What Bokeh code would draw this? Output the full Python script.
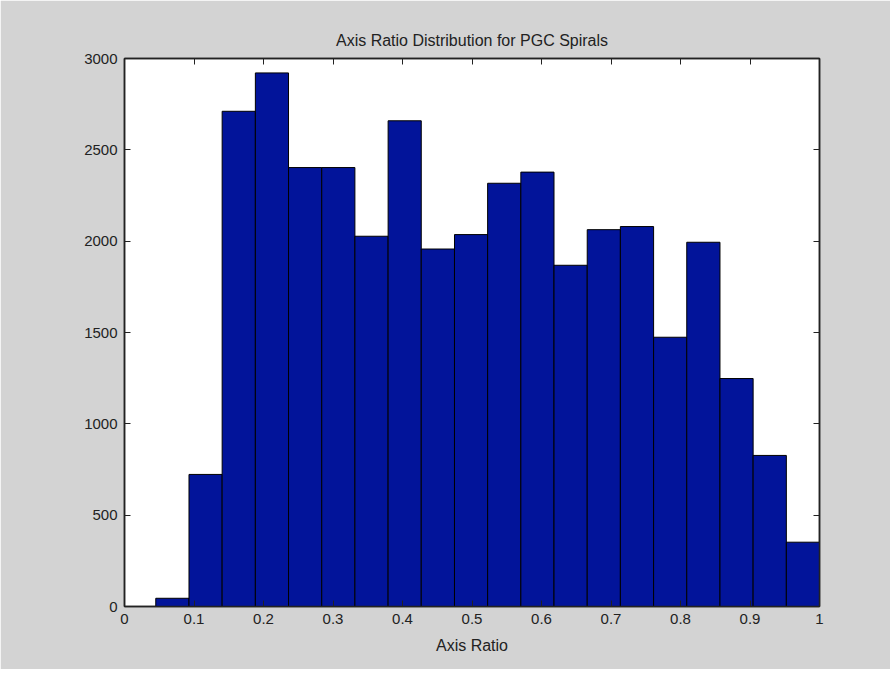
from bokeh.plotting import figure
from bokeh.models import LinearAxis, FixedTicker, Range1d
from bokeh.embed import file_html
from bokeh.resources import INLINE

# Histogram data
bin_edges = [0.045, 0.0928, 0.1405, 0.1883, 0.236, 0.2838, 0.3315, 0.3793, 0.427,
             0.4748, 0.5225, 0.5703, 0.618, 0.6658, 0.7135, 0.7613, 0.809, 0.8568,
             0.9045, 0.9523, 1.0]
counts = [45, 723, 2711, 2921, 2403, 2403, 2027, 2659, 1957, 2036,
          2317, 2378, 1868, 2063, 2080, 1474, 1994, 1248, 827, 352]

x_ticks = [0, 0.1, 0.2, 0.3, 0.4, 0.5, 0.6, 0.7, 0.8, 0.9, 1.0]
x_tick_labels = ["0", "0.1", "0.2", "0.3", "0.4", "0.5", "0.6", "0.7", "0.8", "0.9", "1"]
y_ticks = [0, 500, 1000, 1500, 2000, 2500, 3000]

title_text = "Axis Ratio Distribution for PGC Spirals"
x_label = "Axis Ratio"

FONT = "Liberation Sans"
TXT = "#222222"
GRAY = "#d3d3d3"

p = figure(width=890, height=669, output_backend="svg", toolbar_location=None,
           x_range=Range1d(0, 1), y_range=Range1d(0, 3000),
           title=title_text, x_axis_label=x_label,
           min_border_left=124, min_border_right=71, min_border_top=58, min_border_bottom=63)

p.border_fill_color = GRAY
p.background_fill_color = "white"
p.outline_line_color = "#222222"
p.outline_line_width = 1.5
p.grid.visible = False

p.title.align = "center"
p.title.text_font = FONT
p.title.text_font_size = "16px"
p.title.text_font_style = "normal"
p.title.text_color = TXT
p.title.standoff = 20

p.quad(left=bin_edges[:-1], right=bin_edges[1:], bottom=0, top=counts,
       fill_color="#02149a", line_color="black", line_width=1)

overrides = {t: l for t, l in zip(x_ticks, x_tick_labels)}

def style_axis(ax, ticks, show_labels=True):
    ax.ticker = FixedTicker(ticks=ticks)
    ax.minor_tick_line_color = None
    ax.major_tick_in = 6
    ax.major_tick_out = 0
    ax.major_tick_line_color = "#222222"
    ax.axis_line_color = "#222222"
    ax.axis_line_width = 1.5
    ax.major_label_text_font = FONT
    if show_labels:
        ax.major_label_text_color = TXT
        ax.major_label_text_font_size = "15px"
        ax.major_label_standoff = 7
    else:
        ax.major_label_text_color = None
        ax.major_label_text_font_size = "0px"
        ax.major_label_standoff = 0
    ax.axis_label_text_font = FONT
    ax.axis_label_text_font_size = "16px"
    ax.axis_label_text_font_style = "normal"
    ax.axis_label_text_color = TXT

style_axis(p.xaxis[0], x_ticks)
p.xaxis[0].major_label_overrides = overrides
p.xaxis[0].axis_label_standoff = 10
style_axis(p.yaxis[0], y_ticks)

top = LinearAxis()
style_axis(top, x_ticks, show_labels=False)
p.add_layout(top, "above")
right = LinearAxis()
style_axis(right, y_ticks, show_labels=False)
p.add_layout(right, "right")

open("out.html", "w").write(file_html(p, INLINE))
